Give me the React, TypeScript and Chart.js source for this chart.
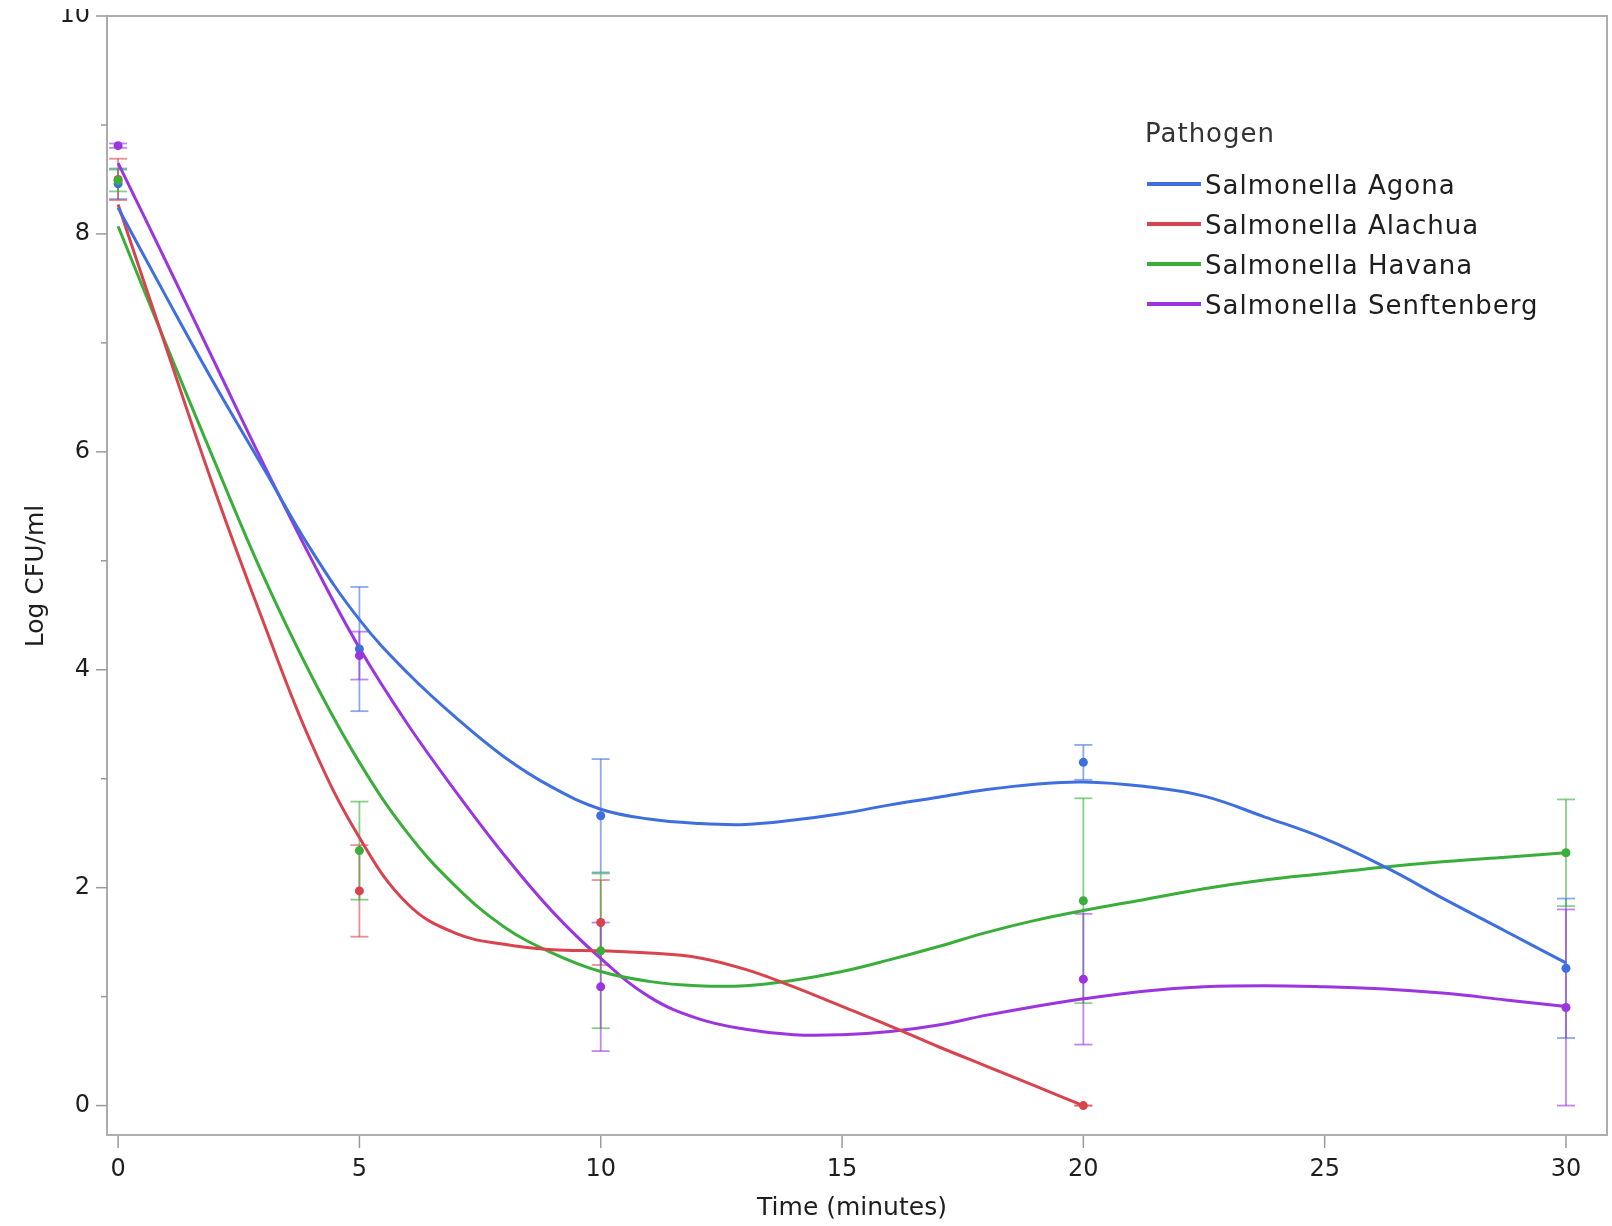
import React, { useEffect, useRef } from "react";
import { Chart, registerables } from "chart.js";

Chart.register(...registerables);

// ---- data ----
const pathogens = ["Salmonella Agona", "Salmonella Alachua", "Salmonella Havana", "Salmonella Senftenberg"];
const lineColors = ["#3f6fdf", "#d8434e", "#3aae3a", "#9b35e0"];
const barColors = ["rgba(63,111,223,0.6)", "rgba(216,67,78,0.6)", "rgba(58,174,58,0.6)", "rgba(155,53,224,0.6)"];
const pointOrder = [2, 3, 0, 1];

const sampleTimes = [0, 5, 10, 20, 30];
const alachuaTimes = [0, 5, 10, 20];

const agonaMean = [8.46, 4.19, 2.66, 3.15, 1.26];
const agonaSd = [0.14, 0.57, 0.52, 0.16, 0.64];
const alachuaMean = [8.5, 1.97, 1.68, 0.0];
const alachuaSd = [0.19, 0.42, 0.39, 0.0];
const havanaMean = [8.49, 2.34, 1.42, 1.88, 2.32];
const havanaSd = [0.1, 0.45, 0.71, 0.94, 0.49];
const senftenbergMean = [8.81, 4.13, 1.09, 1.16, 0.9];
const senftenbergSd = [0.02, 0.22, 0.59, 0.6, 0.9];

// smoother curves
const fitTimes = [0, 1, 2, 3, 4, 5, 6, 7, 8, 9, 10, 11, 12, 13, 14, 15, 16, 17, 18, 19, 20, 21.25, 22.5, 23.75, 25, 26.25, 27.5, 28.75, 30];
const alachuaFitTimes = [0, 1, 2, 3, 4, 5, 6, 7, 8, 9, 10, 11, 12, 13, 14, 15, 16, 17, 18, 19, 20];
const agonaFit = [8.24, 7.42, 6.62, 5.86, 5.1, 4.46, 3.97, 3.56, 3.2, 2.92, 2.72, 2.63, 2.59, 2.58, 2.62, 2.68, 2.76, 2.83, 2.9, 2.95, 2.97, 2.93, 2.84, 2.65, 2.45, 2.19, 1.89, 1.6, 1.31];
const alachuaFit = [8.27, 6.95, 5.65, 4.45, 3.33, 2.46, 1.85, 1.58, 1.48, 1.43, 1.42, 1.4, 1.36, 1.25, 1.09, 0.91, 0.73, 0.54, 0.36, 0.18, 0.0];
const havanaFit = [8.07, 6.98, 5.91, 4.87, 3.95, 3.15, 2.5, 2.01, 1.64, 1.4, 1.23, 1.14, 1.1, 1.1, 1.15, 1.23, 1.34, 1.46, 1.59, 1.7, 1.79, 1.89, 1.99, 2.07, 2.13, 2.19, 2.24, 2.28, 2.32];
const senftenbergFit = [8.65, 7.74, 6.82, 5.9, 5.02, 4.2, 3.5, 2.88, 2.3, 1.78, 1.35, 1.0, 0.8, 0.7, 0.65, 0.65, 0.68, 0.74, 0.83, 0.91, 0.98, 1.05, 1.09, 1.1, 1.09, 1.07, 1.03, 0.97, 0.91];

const xTickValues = [0, 5, 10, 15, 20, 25, 30];
const yTickValues = [0, 2, 4, 6, 8, 10];
const yMinorValues = [1, 3, 5, 7, 9];

const xTitle = "Time (minutes)";
const yTitle = "Log CFU/ml";
const legendTitle = "Pathogen";

const FONT = "'DejaVu Sans', 'Open Sans', sans-serif";
const TOP_OFFSET = 9;

const series = [
  { times: sampleTimes, mean: agonaMean, sd: agonaSd, fitT: fitTimes, fit: agonaFit },
  { times: alachuaTimes, mean: alachuaMean, sd: alachuaSd, fitT: alachuaFitTimes, fit: alachuaFit },
  { times: sampleTimes, mean: havanaMean, sd: havanaSd, fitT: fitTimes, fit: havanaFit },
  { times: sampleTimes, mean: senftenbergMean, sd: senftenbergSd, fitT: fitTimes, fit: senftenbergFit },
];

const decorPlugin = {
  id: "decor",
  beforeDatasetsDraw(chart: any) {
    const { ctx, chartArea: a, scales } = chart;
    const x = scales.x;
    const y = scales.y;
    ctx.save();
    ctx.strokeStyle = "#adadad";
    ctx.lineWidth = 2;
    ctx.strokeRect(a.left, a.top, a.right - a.left, a.bottom - a.top);
    ctx.lineWidth = 1.5;
    ctx.strokeStyle = "#9a9a9a";
    const drawLine = (x1: number, y1: number, x2: number, y2: number) => {
      ctx.beginPath();
      ctx.moveTo(x1, y1);
      ctx.lineTo(x2, y2);
      ctx.stroke();
    };
    yTickValues.forEach((v) => {
      const py = y.getPixelForValue(v);
      drawLine(a.left - 11, py, a.left, py);
    });
    yMinorValues.forEach((v) => {
      const py = y.getPixelForValue(v);
      drawLine(a.left - 6, py, a.left, py);
    });
    xTickValues.forEach((v) => {
      const px = x.getPixelForValue(v);
      drawLine(px, a.bottom + 1, px, a.bottom + 13);
    });
    ctx.lineWidth = 1.8;
    series.forEach((s, si) => {
      ctx.strokeStyle = barColors[si];
      s.times.forEach((t, i) => {
        const px = x.getPixelForValue(t);
        const hi = y.getPixelForValue(s.mean[i] + s.sd[i]);
        const lo = y.getPixelForValue(s.mean[i] - s.sd[i]);
        drawLine(px, hi, px, lo);
        drawLine(px - 9, hi, px + 9, hi);
        drawLine(px - 9, lo, px + 9, lo);
      });
    });
    ctx.restore();
  },
  afterDraw(chart: any) {
    const { ctx } = chart;
    ctx.save();
    ctx.fillStyle = "#1e1e1e";
    ctx.font = `25px ${FONT}`;
    ctx.textAlign = "center";
    ctx.textBaseline = "middle";
    ctx.fillText(xTitle, 852, 1208 - TOP_OFFSET);
    ctx.save();
    ctx.translate(36, 576 - TOP_OFFSET);
    ctx.rotate(-Math.PI / 2);
    ctx.fillText(yTitle, 0, 0);
    ctx.restore();
    // legend
    ctx.textAlign = "left";
    ctx.font = `26px ${FONT}`;
    (ctx as any).letterSpacing = "1px";
    ctx.fillStyle = "#333333";
    ctx.fillText(legendTitle, 1145, 135 - TOP_OFFSET);
    pathogens.forEach((name, i) => {
      const ly = 184 + i * 40 - TOP_OFFSET;
      ctx.strokeStyle = lineColors[i];
      ctx.lineWidth = 4;
      ctx.beginPath();
      ctx.moveTo(1147, ly);
      ctx.lineTo(1201, ly);
      ctx.stroke();
      ctx.fillStyle = "#1e1e1e";
      ctx.fillText(name, 1205, ly + 3);
    });
    (ctx as any).letterSpacing = "0px";
    ctx.restore();
  },
};

export default function App() {
  const ref = useRef<HTMLCanvasElement | null>(null);
  useEffect(() => {
    if (!ref.current) return;
    const datasets: any[] = [];
    series.forEach((s, i) => {
      datasets.push({
        type: "line",
        label: pathogens[i],
        data: s.fitT.map((t, k) => ({ x: t, y: s.fit[k] })),
        borderColor: lineColors[i],
        borderWidth: 3,
        pointRadius: 0,
        fill: false,
        tension: 0.4,
        order: 10 + i,
      });
    });
    series.forEach((s, i) => {
      datasets.push({
        type: "scatter",
        label: pathogens[i] + " mean",
        data: s.times.map((t, k) => ({ x: t, y: s.mean[k] })),
        backgroundColor: lineColors[i],
        borderColor: lineColors[i],
        borderWidth: 0,
        pointRadius: 4.5,
        showLine: false,
        order: pointOrder[i],
      });
    });
    const chart = new Chart(ref.current, {
      type: "line",
      data: { datasets },
      plugins: [decorPlugin],
      options: {
        animation: false,
        responsive: false,
        devicePixelRatio: 1,
        layout: { padding: { top: 16 - TOP_OFFSET, right: 5, bottom: 0, left: 0 } },
        plugins: { legend: { display: false }, tooltip: { enabled: false } },
        scales: {
          x: {
            type: "linear",
            min: -0.23,
            max: 30.85,
            grid: { display: false, drawTicks: false },
            border: { display: false },
            afterBuildTicks: (s: any) => {
              s.ticks = xTickValues.map((v) => ({ value: v }));
            },
            afterFit: (s: any) => {
              s.height = 1226 - 1135;
              s.paddingLeft = 0;
              s.paddingRight = 0;
            },
            ticks: {
              padding: 20,
              maxRotation: 0,
              autoSkip: false,
              color: "#1e1e1e",
              font: { family: FONT, size: 24 },
              callback: (v: any) => String(v),
            },
          },
          y: {
            type: "linear",
            min: -0.27,
            max: 10,
            grid: { display: false, drawTicks: false },
            border: { display: false },
            afterBuildTicks: (s: any) => {
              s.ticks = yTickValues.map((v) => ({ value: v }));
            },
            afterFit: (s: any) => {
              s.width = 107;
              s.paddingTop = 0;
              s.paddingBottom = 0;
            },
            ticks: {
              padding: 17,
              autoSkip: false,
              color: "#1e1e1e",
              font: { family: FONT, size: 24 },
              callback: (v: any) => String(v),
            },
          },
        },
      },
    });
    return () => chart.destroy();
  }, []);
  return (
    <div style={{ position: "fixed", left: 0, top: 0, width: 1612, height: 1226, background: "#ffffff", overflow: "hidden" }}>
      <canvas
        ref={ref}
        width={1612}
        height={1226 - TOP_OFFSET}
        style={{ position: "absolute", left: 0, top: TOP_OFFSET, width: 1612, height: 1226 - TOP_OFFSET }}
      />
    </div>
  );
}
